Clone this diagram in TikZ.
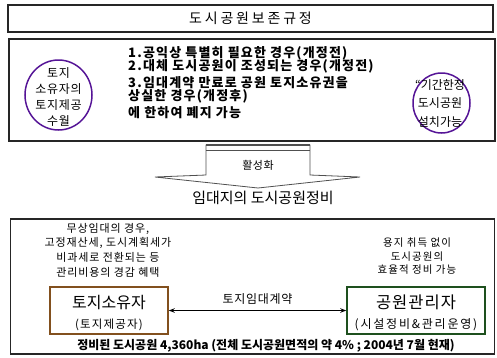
\documentclass[tikz,border=0pt]{standalone}
\usepackage{fontspec}
\setmainfont{Noto Sans CJK KR}
\usetikzlibrary{arrows.meta,shapes.geometric}
\definecolor{cpurple}{RGB}{85,20,150}
\definecolor{cbrown}{RGB}{130,80,30}
\definecolor{cgreen}{RGB}{30,80,30}
\definecolor{cgray}{RGB}{80,80,80}
\newcommand{\ls}[1]{\addfontfeature{LetterSpace=#1}}
\begin{document}
\begin{tikzpicture}[x=1pt,y=-1pt,
  frame/.style={draw=black!85, line width=1.3pt, rectangle, inner sep=0pt},
  ring/.style={draw=cpurple, line width=1.5pt, ellipse, inner sep=0pt},
  ptxt/.style={inner sep=0pt, anchor=west, font=\fontsize{13}{14}\selectfont\bfseries\ls{9}},
  party/.style={draw, line width=1.5pt, rectangle, inner sep=0pt, minimum width=118pt, minimum height=47pt},
  small/.style={inner sep=0pt, align=center}]
\useasboundingbox (0,0) rectangle (497,357);
% title
\node[frame, minimum width=485pt, minimum height=27pt] (title) at (250.5,18.5)
  {\fontsize{14}{16}\selectfont\ls{20}도시공원보존규정};
% regulation box
\node[frame, minimum width=486pt, minimum height=102pt] (rule) at (252,90) {};
\node[ring, minimum width=67pt, minimum height=70pt] (lc) at (58.5,95) {};
\node[small, font=\fontsize{12}{16}\selectfont\ls{6}] (lct) at (58.5,97) {토지\\소유자의\\토지제공\\수월};
\node[ring, minimum width=57pt, minimum height=60pt] (rc) at (441.5,103) {};
\node[small, font=\fontsize{12}{18.5}\selectfont] (rct) at (440,103) {“기간한정\\도시공원\\설치가능};
\node[ptxt] (l1) at (128,53) {1.공익상 특별히 필요한 경우(개정전)};
\node[ptxt] (l2) at (128,66) {2.대체 도시공원이 조성되는 경우(개정전)};
\node[ptxt] (l3) at (128,83) {3.임대계약 만료로 공원 토지소유권을};
\node[ptxt] (l4) at (128,96) {상실한 경우(개정후)};
\node[ptxt] (l5) at (128,113) {에 한하여 폐지 가능};
% big arrow
\coordinate (a1) at (206,145);
\coordinate (a2) at (310,145);
\coordinate (a3) at (310,175);
\coordinate (a4) at (360,177);
\coordinate (tip) at (258,188);
\coordinate (a6) at (155,177);
\coordinate (a7) at (206,175);
\draw[cgray, line width=0.8pt, fill=white] (a1) -- (a2) -- (a3) -- (a4) -- (tip) -- (a6) -- (a7) -- cycle;
\draw[cgray, line width=2pt] (a1) -- (a2);
\draw[cgray, line width=0.8pt] (206,150.5) -- (310,150.5);
\node[inner sep=0pt, font=\fontsize{11}{13}\selectfont\ls{4}] (act) at (258,165) {활성화};
\node[inner sep=0pt, font=\fontsize{15}{16}\selectfont] (lease) at (263,198) {임대지의 도시공원정비};
% lease box
\node[frame, minimum width=484pt, minimum height=135pt] (lbox) at (252.5,286.5) {};
\node[small, font=\fontsize{11}{14.7}\selectfont\ls{8}] (lt) at (108,250) {무상임대의 경우,\\고정재산세, 도시계획세가\\비과세로 전환되는 등\\관리비용의 경감 혜택};
\node[small, font=\fontsize{10.5}{13.5}\selectfont\ls{10}] (rt) at (417,256.5) {용지 취득 없이\\도시공원의\\효율적 정비 가능};
\node[party, draw=cbrown] (owner) at (109,310.5) {};
\node[inner sep=0pt, font=\fontsize{16}{19}\selectfont] (ow1) at (109,302) {토지소유자};
\node[inner sep=0pt, font=\fontsize{11.5}{12}\selectfont\ls{10}] (ow2) at (109,325) {(토지제공자)};
\node[party, draw=cgreen, minimum width=138pt] (mgr) at (416,310.5) {};
\node[inner sep=0pt, font=\fontsize{16.5}{19}\selectfont\ls{6}] (mg1) at (416,302) {공원관리자};
\node[inner sep=0pt, font=\fontsize{12}{12}\selectfont\ls{15}] (mg2) at (416,325) {(시설정비\&관리운영)};
\draw[{Stealth[length=6pt,width=4.5pt]}-{Stealth[length=6pt,width=4.5pt]}, line width=1.2pt] (owner.east) -- (mgr.west)
  node[midway, above=5pt, inner sep=0pt, font=\fontsize{12}{13}\selectfont\ls{6}] (ctr) {토지임대계약};
\node[inner sep=0pt, font=\fontsize{12}{14}\selectfont\bfseries] (stat) at (266,346) {정비된 도시공원 4,360ha (전체 도시공원면적의 약 4\% ; 2004년 7월 현재)};
\end{tikzpicture}
\end{document}
